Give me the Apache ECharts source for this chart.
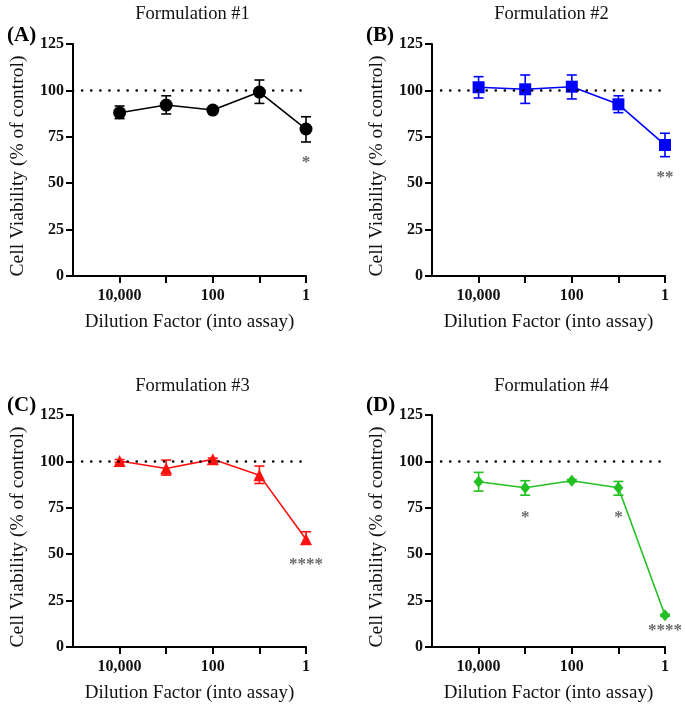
<!DOCTYPE html>
<html><head><meta charset="utf-8">
<script src="https://cdn.jsdelivr.net/npm/echarts@6/dist/echarts.min.js"></script>
<style>html,body{margin:0;padding:0;background:#fff}#c{width:685px;height:711px}</style>
</head><body><div id="c"></div>
<script>
// Dilution factors (into assay), plotted left->right on a reversed log scale
const dilutions = ['10,000', '1,000', '100', '10', '1'];
const shownTickLabels = ['10,000', '100', '1'];
const yTicks = [0, 25, 50, 75, 100, 125];

const titles = ['Formulation #1', 'Formulation #2', 'Formulation #3', 'Formulation #4'];
const panelLetters = ['(A)', '(B)', '(C)', '(D)'];

// Formulation #1
const meanA = [88.0, 92.1, 89.4, 99.1, 79.2];
const lowA  = [84.8, 87.3, 88.8, 93.0, 72.2];
const highA = [91.6, 97.1, 90.0, 105.6, 85.8];
const sigA  = [['1', 63.0, '*']];

// Formulation #2
const meanB = [101.7, 100.6, 102.0, 92.5, 70.6];
const lowB  = [95.9, 93.0, 95.4, 88.0, 64.3];
const highB = [107.4, 108.3, 108.3, 97.1, 76.9];
const sigB  = [['1', 55.3, '**']];

// Formulation #3
const meanC = [100.2, 96.2, 101.1, 92.6, 58.1];
const lowC  = [99.5, 92.6, 100.4, 88.1, 55.4];
const highC = [101.0, 100.7, 101.8, 97.5, 62.1];
const sigC  = [['1', 46.8, '****']];

// Formulation #4
const meanD = [89.0, 85.8, 89.6, 85.8, 17.1];
const lowD  = [84.0, 81.8, 89.0, 81.8, 16.6];
const highD = [94.1, 89.6, 90.2, 89.2, 17.6];
const sigD  = [['1,000', 71.9, '*'], ['10', 71.9, '*'], ['1', 10.8, '****']];

const controlLevel = 100;

const colors = ['#000000', '#0000ff', '#ff1010', '#22c022'];
const symbols = ['circle', 'rect', 'triangle', 'diamond'];
const symbolSizes = [13, 12, 12, [10, 12]];

const grids = [
  {left: 73, top: 44, width: 233, height: 232},
  {left: 432, top: 44, width: 233, height: 232},
  {left: 73, top: 415, width: 233, height: 232},
  {left: 432, top: 415, width: 233, height: 232}
];

const means = [meanA, meanB, meanC, meanD];
const lows = [lowA, lowB, lowC, lowD];
const highs = [highA, highB, highC, highD];
const sigs = [sigA, sigB, sigC, sigD];

// axis position of a dilution: reversed log10 scale, 100,000 at the origin
function pos(label) {
  const d = Number(label.replace(/,/g, ''));
  return 5 - Math.log10(d);
}
function labelAt(v) {
  for (const l of dilutions) if (Math.abs(pos(l) - v) < 1e-6) return l;
  return '';
}

const serif = 'Liberation Serif';
const option = {
  animation: false,
  backgroundColor: '#fff',
  title: [],
  grid: grids,
  xAxis: [], yAxis: [], series: []
};

for (let i = 0; i < 4; i++) {
  const g = grids[i];
  option.title.push({
    text: titles[i], left: g.left + g.width / 2 - 2, top: i < 2 ? 0 : 372, textAlign: 'center',
    textStyle: {fontFamily: serif, fontSize: 18.5, fontWeight: 'normal', color: '#111'}
  });
  option.title.push({
    text: panelLetters[i], left: i % 2 === 0 ? 2 : 361, top: i < 2 ? 20 : 390,
    textStyle: {fontFamily: serif, fontSize: 21, fontWeight: 'bold', color: '#000'}
  });
  option.xAxis.push({
    type: 'value', gridIndex: i, min: 0, max: 5, interval: 1,
    name: 'Dilution Factor (into assay)', nameLocation: 'middle', nameGap: 37,
    nameTextStyle: {fontFamily: serif, fontSize: 19, color: '#111'},
    axisLine: {show: true, lineStyle: {color: '#000', width: 2}},
    axisTick: {show: true, length: 7, lineStyle: {color: '#000', width: 2},
      customValues: dilutions.map(pos)},
    axisLabel: {customValues: shownTickLabels.map(pos), formatter: v => labelAt(v),
      fontFamily: serif, fontSize: 16, fontWeight: 'bold', color: '#111', margin: 12},
    splitLine: {show: false}
  });
  option.yAxis.push({
    type: 'value', gridIndex: i, min: yTicks[0], max: yTicks[yTicks.length - 1], interval: 25,
    name: 'Cell Viability (% of control)', nameLocation: 'middle', nameGap: 45, nameRotate: 90,
    nameTextStyle: {fontFamily: serif, fontSize: 19.5, color: '#111', padding: [0, 12, 0, 0]},
    axisLine: {show: true, lineStyle: {color: '#000', width: 2}},
    axisTick: {show: true, length: 7, lineStyle: {color: '#000', width: 2}},
    axisLabel: {fontFamily: serif, fontSize: 16, fontWeight: 'bold', color: '#111', margin: 9},
    splitLine: {show: false}
  });
  const col = colors[i];
  // error bars
  option.series.push({
    type: 'custom', xAxisIndex: i, yAxisIndex: i, z: 3,
    data: dilutions.map((d, k) => [pos(d), lows[i][k], highs[i][k]]),
    renderItem: function (params, api) {
      const x = api.value(0);
      const lo = api.coord([x, api.value(1)]);
      const hi = api.coord([x, api.value(2)]);
      const w = 5;
      const st = {stroke: col, lineWidth: 1.6};
      return {type: 'group', children: [
        {type: 'line', shape: {x1: lo[0], y1: lo[1], x2: hi[0], y2: hi[1]}, style: st},
        {type: 'line', shape: {x1: lo[0] - w, y1: lo[1], x2: lo[0] + w, y2: lo[1]}, style: st},
        {type: 'line', shape: {x1: hi[0] - w, y1: hi[1], x2: hi[0] + w, y2: hi[1]}, style: st}
      ]};
    }
  });
  // means
  option.series.push({
    type: 'line', xAxisIndex: i, yAxisIndex: i, z: 4,
    data: dilutions.map((d, k) => [pos(d), means[i][k]]),
    symbol: symbols[i], symbolSize: symbolSizes[i], showAllSymbol: true,
    lineStyle: {color: col, width: 1.6}, itemStyle: {color: col},
    markLine: {
      silent: true, symbol: 'none', label: {show: false},
      lineStyle: {color: '#000', type: [0.1, 9], width: 2.6, cap: 'round'},
      data: [{yAxis: controlLevel}]
    }
  });
  // significance asterisks
  option.series.push({
    type: 'scatter', xAxisIndex: i, yAxisIndex: i, z: 5, symbolSize: 1,
    itemStyle: {color: 'rgba(0,0,0,0)'},
    data: sigs[i].map(s => ({value: [pos(s[0]), s[1]], name: s[2]})),
    label: {show: true, position: 'inside', formatter: p => p.name, offset: [0, 4],
      fontFamily: serif, fontSize: 17, fontWeight: 'bold', color: '#444'}
  });
}

const chart = echarts.init(document.getElementById('c'), null, {renderer: 'canvas'});
chart.setOption(option);
</script>
</body></html>
